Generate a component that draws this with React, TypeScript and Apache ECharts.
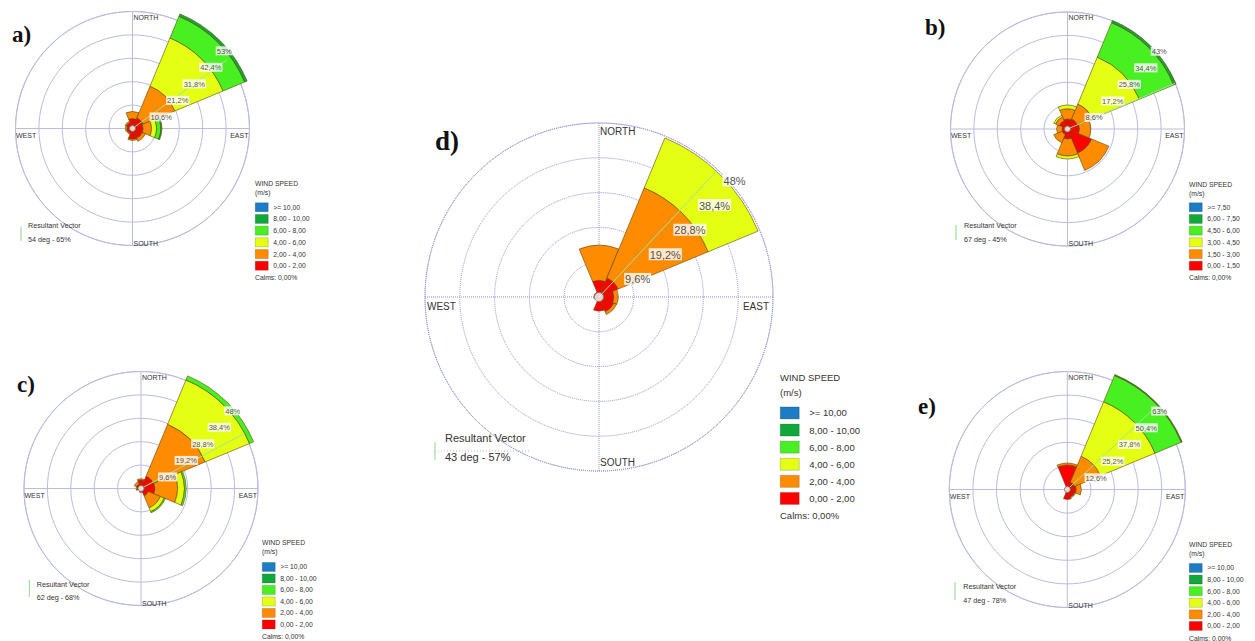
import React, { useEffect, useRef } from 'react';
import * as echarts from 'echarts';

const N = null;
const DIRECTIONS = ['N', 'NE', 'E', 'SE', 'S', 'SW', 'W', 'NW'];

const BINS_STD = ['0,00 - 2,00', '2,00 - 4,00', '4,00 - 6,00', '6,00 - 8,00', '8,00 - 10,00', '>= 10,00'];
const BINS_B = ['0,00 - 1,50', '1,50 - 3,00', '3,00 - 4,50', '4,50 - 6,00', '6,00 - 7,50', '>= 7,50'];
const BIN_COLORS = ['#ff0000', '#ff8c00', '#e4ff14', '#48f022', '#10a83a', '#1c7cc4'];

// ---- rose a) ----
const roseA_0_2 = [4.5, 5.2, 4.8, 4.8, 4.8, 2.5, 2.5, 3.0];
const roseA_2_4 = [3.2, 15.6, 3.8, 1.5, 0.6, 0.4, 0.7, 0.6];
const roseA_4_6 = [N, 23.6, 2.3, N, N, N, N, N];
const roseA_6_8 = [N, 10.6, 1.9, N, N, N, N, N];
const roseA_8_10 = [N, 1.2, 0.5, N, N, N, N, N];
const roseA_10p = [N, N, N, N, N, N, N, N];
const roseA_rings = [10.6, 21.2, 31.8, 42.4, 53];
const roseA_ringLabels = ['10,6%', '21,2%', '31,8%', '42,4%', '53%'];
const roseA_vector = [54, 65];
const roseA_vectorText = '54 deg - 65%';

// ---- rose b) ----
const roseB_0_15 = [3.7, 4.0, 4.4, 9.6, 3.7, 2.2, 2.0, 3.3];
const roseB_15_3 = [3.7, 5.9, 4.1, 6.9, 6.2, 3.3, 2.0, 1.5];
const roseB_3_45 = [1.4, 18.7, N, N, 1.1, N, N, 0.7];
const roseB_45_6 = [N, 13.7, N, N, N, N, N, N];
const roseB_6_75 = [N, 0.9, N, N, N, N, N, N];
const roseB_75p = [N, N, N, N, N, N, N, N];
const roseB_rings = [8.6, 17.2, 25.8, 34.4, 43];
const roseB_ringLabels = ['8,6%', '17,2%', '25,8%', '34,4%', '43%'];
const roseB_vector = [67, 45];
const roseB_vectorText = '67 deg - 45%';

// ---- rose c) ----
const roseC_0_2 = [3.5, 5.5, 5.7, 3.3, 1.6, 1.2, 1.6, 2.0];
const roseC_2_4 = [0.5, 23.0, 9.3, 5.3, N, N, 0.4, 1.0];
const roseC_4_6 = [N, 19.7, 2.8, 1.7, N, N, N, N];
const roseC_6_8 = [N, 1.8, 0.7, 0.5, N, N, N, N];
const roseC_8_10 = [N, N, N, N, N, N, N, N];
const roseC_10p = [N, N, N, N, N, N, N, N];
const roseC_rings = [9.6, 19.2, 28.8, 38.4, 48];
const roseC_ringLabels = ['9,6%', '19,2%', '28,8%', '38,4%', '48%'];
const roseC_vector = [62, 68];
const roseC_vectorText = '62 deg - 68%';

// ---- rose d) ----
const roseD_0_2 = [4.6, 5.7, 4.1, 4.4, 3.9, 1.0, 0.8, 1.4];
const roseD_2_4 = [9.7, 26.9, 1.2, 0.8, N, N, 0.6, N];
const roseD_4_6 = [N, 14.9, N, N, N, N, N, N];
const roseD_6_8 = [N, N, N, N, N, N, N, N];
const roseD_8_10 = [N, N, N, N, N, N, N, N];
const roseD_10p = [N, N, N, N, N, N, N, N];
const roseD_rings = [9.6, 19.2, 28.8, 38.4, 48];
const roseD_ringLabels = ['9,6%', '19,2%', '28,8%', '38,4%', '48%'];
const roseD_vector = [43, 57];
const roseD_vectorText = '43 deg - 57%';

// ---- rose e) ----
const roseE_0_2 = [13.1, 4.3, 4.8, 4.3, 5.3, 1.5, 1.0, 1.5];
const roseE_2_4 = [1.0, 14.9, 2.7, 0.5, N, N, N, N];
const roseE_4_6 = [N, 31.5, N, N, N, N, N, N];
const roseE_6_8 = [N, 15.2, N, N, N, N, N, N];
const roseE_8_10 = [N, 0.5, N, N, N, N, N, N];
const roseE_10p = [N, N, N, N, N, N, N, N];
const roseE_rings = [12.6, 25.2, 37.8, 50.4, 63];
const roseE_ringLabels = ['12,6%', '25,2%', '37,8%', '50,4%', '63%'];
const roseE_vector = [47, 78];
const roseE_vectorText = '47 deg - 78%';

const ROSES = [
  {
    letter: 'a)', bins: [roseA_0_2, roseA_2_4, roseA_4_6, roseA_6_8, roseA_8_10, roseA_10p], names: BINS_STD,
    rings: roseA_rings, ringLabels: roseA_ringLabels, vector: roseA_vector, vectorText: roseA_vectorText,
    L: { cx: 132.5, cy: 128.5, r: 117, big: false, lx: 12, ly: 34, gx: 255, wy: 183, uy: 192.5, by: 207, bs: 11.7, calmsY: 277, rx: 28, ry1: 225, ry2: 239.3, vx: 21, vy1: 227, vy2: 241 },
  },
  {
    letter: 'b)', bins: [roseB_0_15, roseB_15_3, roseB_3_45, roseB_45_6, roseB_6_75, roseB_75p], names: BINS_B,
    rings: roseB_rings, ringLabels: roseB_ringLabels, vector: roseB_vector, vectorText: roseB_vectorText,
    L: { cx: 1067.5, cy: 129, r: 117, big: false, lx: 925, ly: 27, gx: 1189, wy: 184, uy: 193, by: 207, bs: 11.7, calmsY: 277, rx: 964, ry1: 225, ry2: 239.3, vx: 956, vy1: 225, vy2: 240 },
  },
  {
    letter: 'c)', bins: [roseC_0_2, roseC_2_4, roseC_4_6, roseC_6_8, roseC_8_10, roseC_10p], names: BINS_STD,
    rings: roseC_rings, ringLabels: roseC_ringLabels, vector: roseC_vector, vectorText: roseC_vectorText,
    L: { cx: 141, cy: 488.5, r: 117, big: false, lx: 17, ly: 384, gx: 262, wy: 542.7, uy: 551.5, by: 566.7, bs: 11.5, calmsY: 636, rx: 36.7, ry1: 584, ry2: 597.3, vx: 29.3, vy1: 580, vy2: 597 },
  },
  {
    letter: 'd)', bins: [roseD_0_2, roseD_2_4, roseD_4_6, roseD_6_8, roseD_8_10, roseD_10p], names: BINS_STD,
    rings: roseD_rings, ringLabels: roseD_ringLabels, vector: roseD_vector, vectorText: roseD_vectorText,
    L: { cx: 599, cy: 297, r: 174, big: true, lx: 435, ly: 141, gx: 780, wy: 377, uy: 392, by: 412.7, bs: 17.1, calmsY: 515.7, rx: 445, ry1: 438.3, ry2: 456.7, vx: 435, vy1: 442, vy2: 460 },
  },
  {
    letter: 'e)', bins: [roseE_0_2, roseE_2_4, roseE_4_6, roseE_6_8, roseE_8_10, roseE_10p], names: BINS_STD,
    rings: roseE_rings, ringLabels: roseE_ringLabels, vector: roseE_vector, vectorText: roseE_vectorText,
    L: { cx: 1067.3, cy: 489.5, r: 118, big: false, lx: 918, ly: 406, gx: 1189, wy: 544, uy: 553, by: 567.7, bs: 11.6, calmsY: 638, rx: 963.3, ry1: 586, ry2: 600, vx: 955, vy1: 582, vy2: 600 },
  },
];

const FONT = "'Liberation Sans', Arial, sans-serif";
const SERIF = "'Liberation Serif', 'Times New Roman', serif";
const TXT = '#333';

function text(x: number, y: number, t: string, size: number, opts: any = {}) {
  return {
    type: 'text', x, y, silent: true, z: 20,
    style: {
      text: t, fontSize: size, fontFamily: opts.family || FONT, fontWeight: opts.weight || 'normal',
      fill: opts.fill || TXT, align: opts.align || 'left', verticalAlign: opts.va || 'middle',
    },
  };
}

function buildOption() {
  const polar: any[] = [];
  const angleAxis: any[] = [];
  const radiusAxis: any[] = [];
  const series: any[] = [];
  const legend: any[] = [];
  const graphic: any[] = [];

  ROSES.forEach((rose, i) => {
    const L = rose.L;
    const big = L.big;
    const bi = 2 * i;
    const gi = 2 * i + 1;
    const max = rose.rings[rose.rings.length - 1];
    const gridLine = big
      ? { color: '#8c8fd4', width: 1, type: 'dotted' }
      : { color: '#b9bce0', width: 1, type: 'solid' };

    polar.push({ center: [L.cx, L.cy], radius: L.r });
    polar.push({ center: [L.cx, L.cy], radius: L.r });

    angleAxis.push({
      polarIndex: bi, type: 'category', data: DIRECTIONS, startAngle: 112.5, clockwise: true, boundaryGap: true,
      axisLine: { show: false }, axisTick: { show: false }, axisLabel: { show: false }, splitLine: { show: false },
    });
    radiusAxis.push({
      polarIndex: bi, type: 'value', min: 0, max,
      axisLine: { show: false }, axisTick: { show: false }, axisLabel: { show: false }, splitLine: { show: false },
    });
    angleAxis.push({
      polarIndex: gi, type: 'value', min: 0, max: 360, interval: 90, startAngle: 90, clockwise: true,
      axisLine: { show: true, lineStyle: gridLine }, axisTick: { show: false }, axisLabel: { show: false },
      splitLine: { show: true, lineStyle: gridLine },
    });
    radiusAxis.push({
      polarIndex: gi, type: 'value', min: 0, max, interval: rose.rings[0],
      axisLine: { show: false }, axisTick: { show: false }, axisLabel: { show: false },
      splitLine: { show: true, lineStyle: gridLine },
    });

    rose.bins.forEach((vals, k) => {
      series.push({
        type: 'bar', coordinateSystem: 'polar', polarIndex: bi, name: rose.names[k], stack: 'rose' + i,
        data: vals, barCategoryGap: '0%', clip: false, silent: true, z: 3,
        itemStyle: { color: BIN_COLORS[k], borderColor: '#5e4500', borderWidth: 0.6 },
      });
    });

    series.push({
      type: 'line', coordinateSystem: 'polar', polarIndex: gi, silent: true, z: 6, clip: false,
      data: [[0, rose.vector[0]], [rose.vector[1], rose.vector[0]]], symbol: 'none',
      lineStyle: { color: '#9fe39a', width: 1 },
    });

    series.push({
      type: 'scatter', coordinateSystem: 'polar', polarIndex: gi, silent: true, z: 8,
      data: rose.rings.map((v) => [v, 45]), symbolSize: 1, itemStyle: { color: 'rgba(0,0,0,0)' },
      label: {
        show: true, position: [1, 1], align: 'left', verticalAlign: 'top',
        formatter: (p: any) => rose.ringLabels[p.dataIndex],
        fontSize: big ? 11 : 7.5, fontFamily: FONT, color: '#222', backgroundColor: '#fff', padding: [1, 1, 0, 1],
      },
    });

    series.push({
      type: 'scatter', coordinateSystem: 'polar', polarIndex: gi, silent: true, z: 9,
      data: [[0, 0]], symbolSize: big ? 9 : 6,
      itemStyle: { color: '#ffffff', borderColor: '#777', borderWidth: 1 },
    });

    // one legend entry per speed bin, top row is the highest bin
    const iw = big ? 19 : 13;
    const ih = big ? 12 : 9;
    const lf = big ? 9.5 : 6.8;
    const ordered = [...rose.names].reverse();
    ordered.forEach((name, k) => {
      legend.push({
        data: [name], orient: 'vertical', left: L.gx, top: L.by + k * L.bs - ih / 2,
        itemWidth: iw, itemHeight: ih, padding: 0, selectedMode: false, icon: 'rect',
        itemStyle: { borderWidth: 0.5, borderColor: 'rgba(0,0,0,0.35)' },
        textStyle: { fontSize: lf, lineHeight: ih, fontFamily: FONT, color: TXT, padding: [0, 0, 0, big ? 5 : 0] },
      });
    });

    // compass labels
    const cf = big ? 10 : 7;
    graphic.push(text(L.cx + 1, L.cy - L.r + (big ? 3 : 2), 'NORTH', cf, { va: 'top' }));
    graphic.push(text(L.cx + 1, L.cy + L.r + (big ? -4 : 1), 'SOUTH', cf, { va: 'bottom' }));
    graphic.push(text(L.cx - L.r + (big ? 2 : 0.5), L.cy + (big ? 4 : 3), 'WEST', cf, { va: 'top' }));
    graphic.push(text(L.cx + L.r - (big ? 4 : 1), L.cy + (big ? 4 : 3), 'EAST', cf, { va: 'top', align: 'right' }));

    // panel letter
    graphic.push(text(L.lx, L.ly, rose.letter, big ? 27 : 23, { family: SERIF, weight: 'bold', fill: '#111' }));

    // legend title and calms
    graphic.push(text(L.gx, L.wy, 'WIND SPEED', lf, {}));
    graphic.push(text(L.gx, L.uy, '(m/s)', lf, {}));
    graphic.push(text(L.gx, L.calmsY, 'Calms: 0,00%', lf, {}));

    // resultant vector legend
    const vf = big ? 11 : 7.2;
    graphic.push({
      type: 'line', silent: true, z: 20,
      shape: { x1: L.vx, y1: L.vy1, x2: L.vx, y2: L.vy2 },
      style: { stroke: '#8fd98a', lineWidth: 1 },
    });
    if (big) {
      graphic.push({
        type: 'line', silent: true, z: 1,
        shape: { x1: L.vx, y1: (L.vy1 + L.vy2) / 2, x2: L.vx + 95, y2: (L.vy1 + L.vy2) / 2 },
        style: { stroke: '#b5b5cf', lineWidth: 1, lineDash: [1, 2] },
      });
    }
    graphic.push(text(L.rx, L.ry1, 'Resultant Vector', vf, {}));
    graphic.push(text(L.rx, L.ry2, rose.vectorText, vf, {}));
  });

  return {
    animation: false,
    backgroundColor: '#ffffff',
    polar, angleAxis, radiusAxis, series, legend, graphic,
  };
}

export default function App() {
  const ref = useRef<HTMLDivElement>(null);
  useEffect(() => {
    if (!ref.current) return;
    const chart = echarts.init(ref.current, undefined, { renderer: 'svg' });
    chart.setOption(buildOption() as any);
    return () => chart.dispose();
  }, []);
  return (
    <div
      ref={ref}
      style={{ position: 'absolute', left: 0, top: 0, width: 1255, height: 641, background: '#fff' }}
    />
  );
}
